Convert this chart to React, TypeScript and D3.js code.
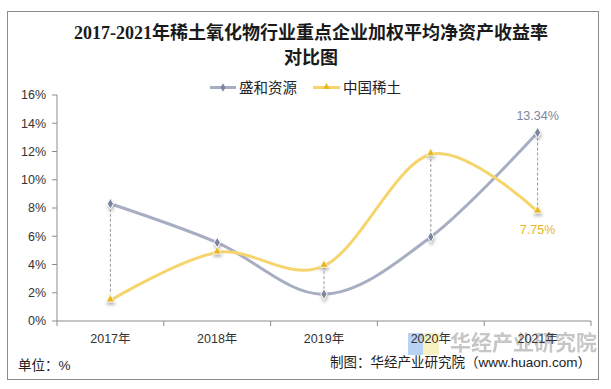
import * as d3 from 'd3';

const years = ['2017年', '2018年', '2019年', '2020年', '2021年'];
const shengheValues = [8.3, 5.55, 1.9, 5.95, 13.34];
const zgxtValues = [1.45, 4.85, 3.9, 11.8, 7.75];
const yTicks = [0, 2, 4, 6, 8, 10, 12, 14, 16];

const W = 611;
const H = 389;
const marginLeft = 57;
const marginRight = 20;
const plotTop = 95;
const plotBottom = 321;

const SH_LINE = '#a7adc2';
const SH_MARK = '#7c86a0';
const ZG_LINE = '#f6d56e';
const ZG_MARK = '#e9b81f';
const AXIS = '#8c8c8c';
const sansFont = '"Liberation Sans", Arial, "Noto Sans CJK SC", sans-serif';

export default function App() {
    const x = d3.scaleBand<string>().domain(years).range([marginLeft, W - marginRight]);
    const cx = (i: number) => (x(years[i]) || 0) + x.bandwidth() / 2;
    const y = d3.scaleLinear().domain([0, 16]).range([plotBottom, plotTop]);

    const line = d3.line<number>()
        .x((_, i) => cx(i))
        .y((d) => y(d))
        .curve(d3.curveCardinal.tension(0));

    const boundaries = years.map((yr) => x(yr) || 0).concat([W - marginRight]);

    return (
        <svg width={W} height={H} style={{ position: 'fixed', left: 0, top: 0, background: '#fff' }}>
            <defs>
                <filter id="shadow" x="-100%" y="-100%" width="300%" height="300%">
                    <feDropShadow dx="0.5" dy="2.5" stdDeviation="1.6" floodColor="#777" floodOpacity="0.55" />
                </filter>
            </defs>
            <rect x={0} y={0} width={W} height={H} fill="#fff" />
            <rect x={7.5} y={11.5} width={591} height={368} fill="none" stroke="#8a8a8a" strokeWidth={1} />

            {/* watermark (behind the axis labels) */}
            <g opacity={0.8}>
                <rect x={408} y={333} width={15} height={22} fill="#a9c9f2" />
                <rect x={423} y={333} width={16} height={22} fill="#f7f0b5" />
                <text x={450} y={350} style={{ font: `bold 21px "Noto Sans CJK SC", sans-serif`, fill: '#b9b9b9' }}>华经产业研究院</text>
            </g>

            {/* title */}
            <g style={{ font: `bold 18px "Liberation Serif", "Noto Sans CJK SC", serif`, fill: '#1a1a1a' }}>
                <text x={311} y={39} textAnchor="middle">2017-2021年稀土氧化物行业重点企业加权平均净资产收益率</text>
                <text x={311} y={64} textAnchor="middle">对比图</text>
            </g>

            {/* legend */}
            <g style={{ font: `14.5px ${sansFont}`, fill: '#222' }}>
                <line x1={210} x2={236} y1={87.5} y2={87.5} stroke={SH_LINE} strokeWidth={3} />
                <path d={d3.symbol(d3.symbolDiamond, 22)() || ''} transform="translate(223,87.5)" fill={SH_MARK} />
                <text x={239} y={93}>盛和资源</text>
                <line x1={313} x2={340} y1={87.5} y2={87.5} stroke={ZG_LINE} strokeWidth={3} />
                <path d={d3.symbol(d3.symbolTriangle, 20)() || ''} transform="translate(326.5,87)" fill={ZG_MARK} />
                <text x={343} y={93}>中国稀土</text>
            </g>

            {/* y axis */}
            <line x1={marginLeft} x2={marginLeft} y1={plotTop} y2={plotBottom} stroke={AXIS} />
            {yTicks.map((t) => (
                <g key={t} transform={`translate(0,${y(t)})`}>
                    <line x1={marginLeft - 5} x2={marginLeft} stroke={AXIS} />
                    <text x={46} dy="0.35em" textAnchor="end" style={{ font: `12.5px ${sansFont}`, fill: '#333' }}>
                        {t}%
                    </text>
                </g>
            ))}

            {/* x axis */}
            <line x1={marginLeft} x2={W - marginRight} y1={plotBottom} y2={plotBottom} stroke={AXIS} />
            {boundaries.map((b, i) => (
                <line key={i} x1={b} x2={b} y1={plotBottom} y2={plotBottom + 5} stroke={AXIS} />
            ))}
            {years.map((yr, i) => (
                <text key={yr} x={cx(i)} y={343} textAnchor="middle" style={{ font: `12.5px ${sansFont}`, fill: '#333' }}>
                    {yr}
                </text>
            ))}

            {/* high-low lines */}
            {years.map((yr, i) => (
                <line key={yr} x1={cx(i)} x2={cx(i)} y1={y(shengheValues[i])} y2={y(zgxtValues[i])}
                    stroke="#999" strokeWidth={1} strokeDasharray="3,2" />
            ))}

            {/* series */}
            <path d={line(shengheValues) || ''} fill="none" stroke={SH_LINE} strokeWidth={3} />
            <path d={line(zgxtValues) || ''} fill="none" stroke={ZG_LINE} strokeWidth={3} />

            {shengheValues.map((v, i) => (
                <path key={i} d={d3.symbol(d3.symbolDiamond, 34)() || ''} transform={`translate(${cx(i)},${y(v)})`}
                    fill={SH_MARK} stroke="#fff" strokeWidth={1} filter="url(#shadow)" />
            ))}
            {zgxtValues.map((v, i) => (
                <path key={i} d={d3.symbol(d3.symbolTriangle, 32)() || ''} transform={`translate(${cx(i)},${y(v) - 1})`}
                    fill={ZG_MARK} stroke="#fff" strokeWidth={0.8} filter="url(#shadow)" />
            ))}

            {/* data labels */}
            <text x={cx(4)} y={120} textAnchor="middle" style={{ font: `12.5px ${sansFont}`, fill: '#7c86a0' }}>
                {shengheValues[4].toFixed(2)}%
            </text>
            <text x={cx(4)} y={234} textAnchor="middle" style={{ font: `12.5px ${sansFont}`, fill: '#e6b424' }}>
                {zgxtValues[4].toFixed(2)}%
            </text>

            {/* footer */}
            <text x={18} y={370} style={{ font: `13.5px ${sansFont}`, fill: '#222' }}>单位：%</text>
            <text x={591} y={367} textAnchor="end" style={{ font: `13.5px ${sansFont}`, fill: '#222' }}>
                制图：华经产业研究院（www.huaon.com）
            </text>
        </svg>
    );
}
